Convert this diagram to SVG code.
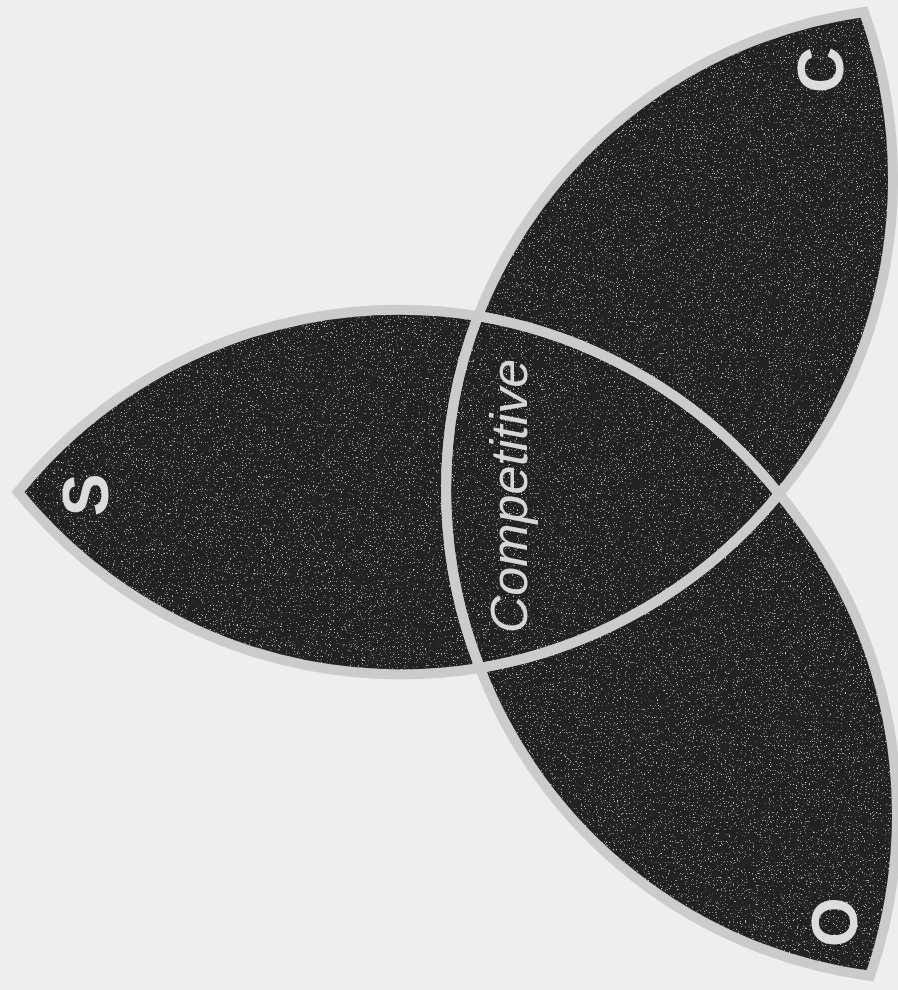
<svg xmlns="http://www.w3.org/2000/svg" width="898" height="990" viewBox="0 0 898 990">
  <defs>
    <filter id="speck" x="-5%" y="-5%" width="110%" height="110%">
      <feTurbulence type="fractalNoise" baseFrequency="0.75" numOctaves="2" seed="7" result="n"/>
      <feColorMatrix in="n" type="matrix" values="0 0 0 0 0.7  0 0 0 0 0.7  0 0 0 0 0.7  6 0 0 0 -3.9" result="s"/>
      <feComposite in="s" in2="SourceGraphic" operator="in" result="s2"/>
      <feMerge><feMergeNode in="SourceGraphic"/><feMergeNode in="s2"/></feMerge>
    </filter>
    <style>
      .lens { fill: #222222; stroke: none; }
      .edge { fill: none; stroke: #cbcbcb; stroke-width: 10; stroke-linejoin: miter; stroke-miterlimit: 6; }
      .tip { font-family: "Liberation Sans", Arial, sans-serif; font-weight: bold; font-size: 64px; fill: #dcdcdc; text-anchor: middle; }
      .mid { font-family: "Liberation Sans", Arial, sans-serif; font-style: italic; font-size: 52px; fill: #d6d6d6; text-anchor: middle; }
    </style>
  </defs>
  <rect x="0" y="0" width="898" height="990" fill="#eeeeee"/>

  <g id="lens-s">
    <path class="lens" filter="url(#speck)" d="M18,492 A490,490 0 0 1 478,316 A490,490 0 0 1 779,494 A493,493 0 0 1 480,668 A493,493 0 0 1 18,492 Z"/>
    <text class="tip" transform="translate(108,495) rotate(-90)">S</text>
  </g>
  <g id="lens-c">
    <path class="lens" filter="url(#speck)" d="M864,12 A487,487 0 0 0 478,316 A487,487 0 0 0 480,668 A493,493 0 0 0 779,494 A493,493 0 0 0 864,12 Z"/>
    <text class="tip" transform="translate(843,70) rotate(-90)">C</text>
  </g>
  <g id="lens-o">
    <path class="lens" filter="url(#speck)" d="M870,976 A487,487 0 0 1 480,668 A487,487 0 0 1 478,316 A490,490 0 0 1 779,494 A495,495 0 0 1 870,976 Z"/>
    <text class="tip" transform="translate(857,922) rotate(-90)">O</text>
  </g>

  <g id="connectors">
    <path class="edge" d="M18,492 A490,490 0 0 1 478,316 A490,490 0 0 1 779,494 A493,493 0 0 1 480,668 A493,493 0 0 1 18,492 Z"/>
    <path class="edge" d="M864,12 A487,487 0 0 0 478,316 A487,487 0 0 0 480,668 A493,493 0 0 0 779,494 A493,493 0 0 0 864,12 Z"/>
    <path class="edge" d="M870,976 A487,487 0 0 1 480,668 A487,487 0 0 1 478,316 A490,490 0 0 1 779,494 A495,495 0 0 1 870,976 Z"/>
  </g>

  <g id="competitive">
    <text class="mid" transform="translate(527,496) rotate(-90)">Competitive</text>
  </g>
</svg>
